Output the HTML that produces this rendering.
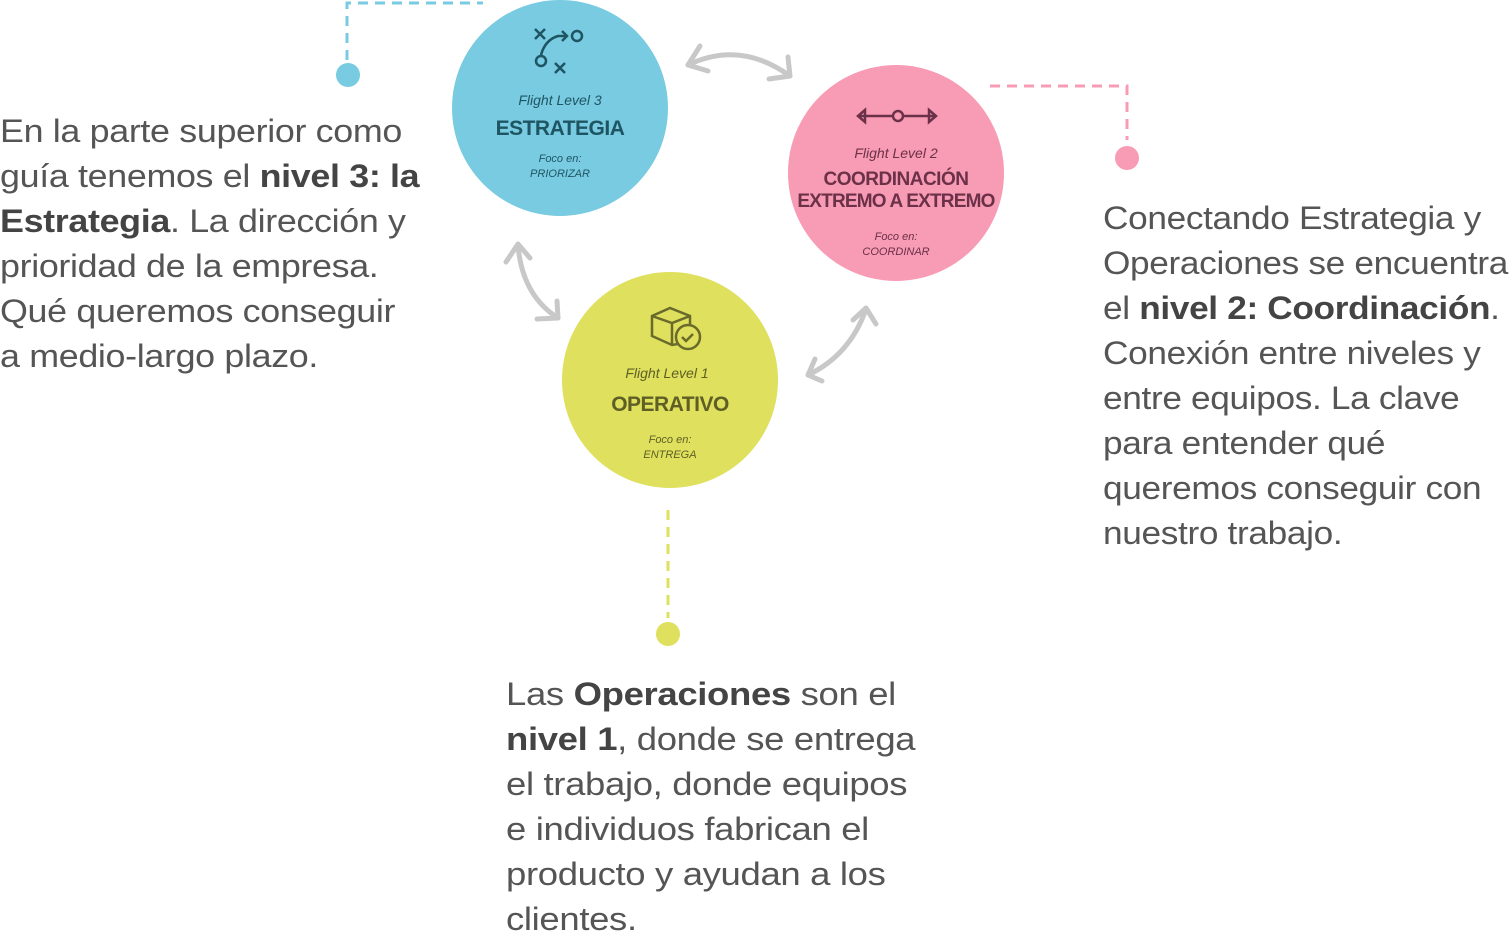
<!DOCTYPE html>
<html><head><meta charset="utf-8"><style>
html,body{margin:0;padding:0;background:#fff;}
body{width:1510px;height:933px;position:relative;overflow:hidden;font-family:"Liberation Sans",sans-serif;}
.t{position:absolute;color:#555;font-size:32px;line-height:45px;white-space:nowrap;letter-spacing:-0.3px;transform-origin:0 0}
.t b{color:#444}
</style></head><body>
<svg width="1510" height="933" style="position:absolute;left:0;top:0">
<g fill="none" stroke-width="3" stroke-dasharray="10,7">
<path d="M347 60 V3 H483" stroke="#78CBE1"/>
<path d="M990 86 H1127 V140" stroke="#F89BB4"/>
<path d="M668 510 V618" stroke="#DEE05E"/>
</g>
<circle cx="348" cy="75" r="12" fill="#78CBE1"/>
<circle cx="1127" cy="158" r="12" fill="#F89BB4"/>
<circle cx="668" cy="634" r="12" fill="#DEE05E"/>
<circle cx="560" cy="108" r="108" fill="#78CBE1"/>
<circle cx="896" cy="173" r="108" fill="#F89BB4"/>
<circle cx="670" cy="380" r="108" fill="#DEE05E"/>
<g fill="none" stroke="#c8c8c8" stroke-width="5" stroke-linecap="round" stroke-linejoin="round">
<path d="M688 65 Q740 40 790 76"/><path d="M700 46 L688 65 L708 71"/><path d="M769 79 L790 76 L788 57"/>
<path d="M518 245 Q522 295 558 318"/><path d="M506 262 L518 244 L530 258"/><path d="M537 319 L558 318 L557 301"/>
<path d="M866 309 Q850 355 808 375"/><path d="M853 320 L866 308 L876 324"/><path d="M822 381 L808 375 L815 359"/>
</g>
<g fill="none" stroke="#1F5563" stroke-width="2.5">
<path d="M535 29 l10 10 M545 29 l-10 10"/><path d="M555 63 l10 10 M565 63 l-10 10"/>
<circle cx="577" cy="36" r="5"/><circle cx="541" cy="61" r="5"/>
<path d="M541 55 Q545 40 558 36 L567 36 M562 31 L567 36 L562 41"/>
</g>
<g fill="none" stroke="#6B3148" stroke-width="2.5">
<path d="M858 116 H892 M904 116 H936 M865 110 L858 116 L865 122 Z M929 110 L936 116 L929 122 Z"/>
<circle cx="898" cy="116" r="5"/>
</g>
<g fill="none" stroke="#6a6a2a" stroke-width="2.5">
<path d="M652 316 L670 308 L690 316 L690 342 L672 345 L652 336 Z M652 316 L672 323 L690 316 M672 323 V345"/>
<circle cx="688" cy="337" r="12" fill="#DEE05E"/><path d="M682 337 l4 4 l7 -7"/>
</g>
<g font-family="Liberation Sans, sans-serif" text-anchor="middle">
<text x="560" y="105" font-size="14" font-style="italic" fill="#1F5563">Flight Level 3</text>
<text x="560" y="135" font-size="21" font-weight="bold" fill="#1F5563" letter-spacing="-0.5">ESTRATEGIA</text>
<text x="560" y="162" font-size="11" font-style="italic" fill="#1F5563">Foco en:</text>
<text x="560" y="177" font-size="11" font-style="italic" fill="#1F5563">PRIORIZAR</text>
<text x="896" y="158" font-size="14" font-style="italic" fill="#6B3148">Flight Level 2</text>
<text x="896" y="185" font-size="19" font-weight="bold" fill="#6B3148" letter-spacing="-0.5">COORDINACIÓN</text>
<text x="896" y="207" font-size="19" font-weight="bold" fill="#6B3148" letter-spacing="-0.8">EXTREMO A EXTREMO</text>
<text x="896" y="240" font-size="11" font-style="italic" fill="#6B3148">Foco en:</text>
<text x="896" y="255" font-size="11" font-style="italic" fill="#6B3148">COORDINAR</text>
<text x="667" y="378" font-size="14" font-style="italic" fill="#5F5F25">Flight Level 1</text>
<text x="670" y="411" font-size="21" font-weight="bold" fill="#5F5F25" letter-spacing="-0.5">OPERATIVO</text>
<text x="670" y="443" font-size="11" font-style="italic" fill="#5F5F25">Foco en:</text>
<text x="670" y="458" font-size="11" font-style="italic" fill="#5F5F25">ENTREGA</text>
</g>
</svg>
<div class="t" style="left:0;top:109px;transform:scaleX(1.12)">En la parte superior como<br>guía tenemos el <b>nivel 3: la</b><br><b>Estrategia</b>. La dirección y<br>prioridad de la empresa.<br>Qué queremos conseguir<br>a medio-largo plazo.</div>
<div class="t" style="left:1103px;top:196px;transform:scaleX(1.1)">Conectando Estrategia y<br>Operaciones se encuentra<br>el <b>nivel 2: Coordinación</b>.<br>Conexión entre niveles y<br>entre equipos. La clave<br>para entender qué<br>queremos conseguir con<br>nuestro trabajo.</div>
<div class="t" style="left:506px;top:672px;transform:scaleX(1.14)">Las <b>Operaciones</b> son el<br><b>nivel 1</b>, donde se entrega<br>el trabajo, donde equipos<br>e individuos fabrican el<br>producto y ayudan a los<br>clientes.</div>
</body></html>
